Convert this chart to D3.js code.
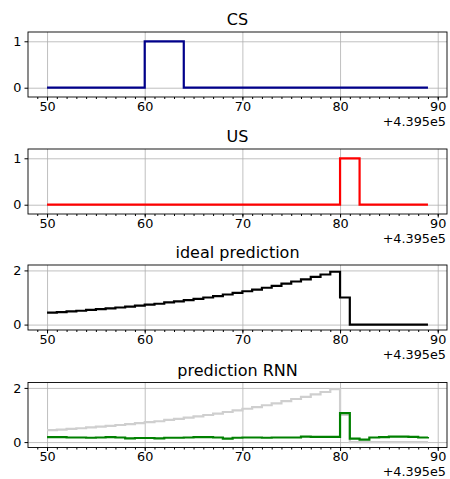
<!doctype html>
<html lang="en">
<head>
	<meta charset="UTF-8">
	<title>CS / US / prediction</title>
	<style>
		body { margin: 0; background: #fff; }
		svg { display: block; font-family: "DejaVu Sans", sans-serif; }
		.grid line { stroke: #b0b0b0; stroke-width: 0.8; }
		.grid path { display: none; }
	</style>
</head>
<body>
	<script src="https://cdnjs.cloudflare.com/ajax/libs/d3/7.8.5/d3.min.js"></script>
	<script>
		// time steps (offset from 4.395e5)
		var xOffsetLabel = '+4.395e5';
		var steps = d3.range(50, 90);
		var xTicks = [50, 60, 70, 80, 90];

		var cs = [0,0,0,0,0,0,0,0,0,0, 1,1,1,1,0,0,0,0,0,0, 0,0,0,0,0,0,0,0,0,0, 0,0,0,0,0,0,0,0,0,0];
		var us = [0,0,0,0,0,0,0,0,0,0, 0,0,0,0,0,0,0,0,0,0, 0,0,0,0,0,0,0,0,0,0, 1,1,0,0,0,0,0,0,0,0];
		var ideal = [0.44,0.46,0.49,0.51,0.54,0.57,0.60,0.63,0.66,0.70,
			0.74,0.77,0.82,0.86,0.90,0.95,1.00,1.05,1.11,1.17,
			1.23,1.29,1.36,1.43,1.51,1.59,1.67,1.76,1.85,1.95,
			1.00,0,0,0,0,0,0,0,0,0];
		var rnn = [0.18,0.18,0.17,0.17,0.16,0.17,0.18,0.17,0.14,0.15,
			0.15,0.14,0.16,0.16,0.17,0.18,0.18,0.17,0.13,0.16,
			0.17,0.17,0.16,0.17,0.17,0.17,0.20,0.19,0.19,0.19,
			1.07,0.13,0.09,0.17,0.18,0.20,0.20,0.19,0.17,0.19];

		var panels = [
			{ title: 'CS', top: 32, yTicks: [0, 1], yDomain: [-0.2, 1.2],
				series: [{ values: cs, color: '#00008b' }] },
			{ title: 'US', top: 149, yTicks: [0, 1], yDomain: [-0.2, 1.2],
				series: [{ values: us, color: '#ff0000' }] },
			{ title: 'ideal prediction', top: 265, yTicks: [0, 2], yDomain: [-0.2, 2.2],
				series: [{ values: ideal, color: '#000000' }] },
			{ title: 'prediction RNN', top: 382.5, yTicks: [0, 2], yDomain: [-0.2, 2.2],
				series: [{ values: ideal, color: '#cfcfcf' }, { values: rnn, color: '#008000' }] }
		];

		var w = 450,
			h = 479,
			left = 28,
			right = 447,
			ph = 65,
			fs = 12.8;

		var svg = d3.select('body')
			.append('svg')
			.attr('width', w)
			.attr('height', h);

		var x = d3.scaleLinear()
			.domain([48.05, 90.95])
			.range([left, right]);

		panels.forEach(function(p) {
			var y = d3.scaleLinear()
				.domain(p.yDomain)
				.range([p.top + ph, p.top]);

			var g = svg.append('g');

			// grid
			g.append('g')
				.attr('class', 'grid')
				.attr('transform', 'translate(0,' + p.top + ')')
				.call(d3.axisBottom(x).tickValues(xTicks).tickSize(ph).tickFormat(''));
			g.append('g')
				.attr('class', 'grid')
				.attr('transform', 'translate(' + left + ',0)')
				.call(d3.axisRight(y).tickValues(p.yTicks).tickSize(right - left).tickFormat(''));

			var line = d3.line()
				.x(function(d, i) { return x(steps[i]); })
				.y(function(d) { return y(d); })
				.curve(d3.curveStepAfter);

			p.series.forEach(function(s) {
				g.append('path')
					.datum(s.values)
					.attr('fill', 'none')
					.attr('stroke', s.color)
					.attr('stroke-width', 2.2)
					.attr('d', line);
			});

			// frame
			g.append('rect')
				.attr('x', left)
				.attr('y', p.top)
				.attr('width', right - left)
				.attr('height', ph)
				.attr('fill', 'none')
				.attr('stroke', '#000')
				.attr('stroke-width', 0.9);

			// minor x ticks
			var minor = g.append('g')
				.attr('transform', 'translate(0,' + (p.top + ph) + ')')
				.call(d3.axisBottom(x).tickValues(d3.range(49, 91)).tickSize(2).tickFormat(''));
			minor.select('.domain').remove();

			var xa = g.append('g')
				.attr('transform', 'translate(0,' + (p.top + ph) + ')')
				.call(d3.axisBottom(x).tickValues(xTicks).tickSize(3.5).tickPadding(1).tickFormat(d3.format('d')));
			xa.select('.domain').remove();
			xa.selectAll('text').attr('font-size', fs).attr('fill', '#000').attr('font-family', 'DejaVu Sans');

			var ya = g.append('g')
				.attr('transform', 'translate(' + left + ',0)')
				.call(d3.axisLeft(y).tickValues(p.yTicks).tickSize(3.5).tickPadding(3).tickFormat(d3.format('d')));
			ya.select('.domain').remove();
			ya.selectAll('text').attr('font-size', fs).attr('fill', '#000').attr('font-family', 'DejaVu Sans');

			g.append('text')
				.attr('x', right - 1)
				.attr('y', p.top + ph + 28.5)
				.attr('text-anchor', 'end')
				.attr('font-size', fs)
				.text(xOffsetLabel);

			g.append('text')
				.attr('x', (left + right) / 2)
				.attr('y', p.top - 7)
				.attr('text-anchor', 'middle')
				.attr('font-size', 16)
				.text(p.title);
		});
	</script>
</body>
</html>
